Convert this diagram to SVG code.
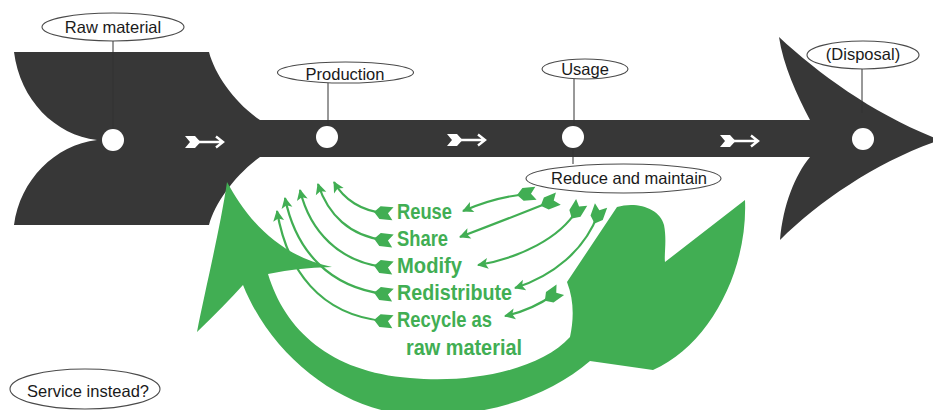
<svg xmlns="http://www.w3.org/2000/svg" width="933" height="410" viewBox="0 0 933 410">
<style>
.lbl{fill:#fff;stroke:#4a4a4a;stroke-width:1.1}
.lt{font-family:"Liberation Sans",Arial,sans-serif;font-size:16.5px;fill:#1a1a1a;text-anchor:middle}
.lead{stroke:#333;stroke-width:1;fill:none}
.dot{fill:#fff}
.g{fill:#41ae53}
.ga{fill:none;stroke:#41ae53;stroke-width:2.2;marker-start:url(#fl);marker-end:url(#hd)}
.gt{font-family:"Liberation Sans",Arial,sans-serif;font-size:22px;font-weight:bold;fill:#41ae53}
</style>
<defs>
<marker id="hd" viewBox="-12 -7 14 14" refX="0" refY="0" markerWidth="14" markerHeight="14" markerUnits="userSpaceOnUse" orient="auto">
<path d="M-10,-5.5 L1,0 L-10,5.5 L-7.5,0 Z" fill="#41ae53"/>
</marker>
<marker id="fl" viewBox="-12 -8 24 16" refX="0" refY="0" markerWidth="24" markerHeight="16" markerUnits="userSpaceOnUse" orient="auto">
<path d="M-9,-6.5 L4,-6.5 L10,0 L4,6.5 L-9,6.5 L-4,0 Z" fill="#41ae53"/>
</marker>
<g id="wa">
<path d="M0,-6 L10,-6 L15.5,0 L10,6 L0,6 L5,0 Z" fill="#fff"/>
<path d="M13,0 L37,0 M31,-5.5 L38,0 L31,5.5" fill="none" stroke="#fff" stroke-width="2.4"/>
</g>
</defs>
<rect width="933" height="410" fill="#fff"/>
<g id="lifecycle-arrow">
<path fill="#373737" d="M14,52 L209,52 C215,75 235,103 260,120 L810,120 C797,95 783,65 779,37 C820,75 875,115 940,140 C880,160 820,200 780,240 C783,205 795,175 810,157 L260,157 C235,175 215,203 209,225 L14,225 C20,180 55,145 97,140 C55,135 20,100 14,52 Z"/>
<use href="#wa" x="185" y="142"/>
<use href="#wa" x="447" y="140"/>
<use href="#wa" x="720" y="141"/>
</g>
<g id="connectors">
<line class="lead" x1="113" y1="41" x2="113" y2="130"/>
<line class="lead" x1="328" y1="83" x2="328" y2="127"/>
<line class="lead" x1="574" y1="79" x2="574" y2="127"/>
<line class="lead" x1="862" y1="69" x2="862" y2="113"/>
<line class="lead" x1="573" y1="148" x2="573" y2="164"/>
</g>
<g id="raw-material">
<circle class="dot" cx="113" cy="140" r="11"/>
<ellipse class="lbl" cx="113" cy="27" rx="71" ry="14"/>
<text class="lt" x="113" y="33">Raw material</text>
</g>
<g id="production">
<circle class="dot" cx="327" cy="137" r="11"/>
<ellipse class="lbl" cx="345.5" cy="72.5" rx="68" ry="10.5"/>
<text class="lt" x="345" y="79.5" font-size="17">Production</text>
</g>
<g id="usage">
<circle class="dot" cx="573" cy="137" r="11"/>
<ellipse class="lbl" cx="585" cy="69" rx="43" ry="10"/>
<text class="lt" x="585" y="75">Usage</text>
</g>
<g id="disposal">
<circle class="dot" cx="863" cy="139" r="11"/>
<ellipse class="lbl" cx="863" cy="55" rx="56" ry="14"/>
<text class="lt" x="863" y="60">(Disposal)</text>
</g>
<g id="reduce-maintain">
<ellipse class="lbl" cx="623.5" cy="178.5" rx="97.5" ry="14.5"/>
<text class="lt" x="629" y="184" font-size="17.5">Reduce and maintain</text>
</g>
<g id="service-instead">
<ellipse class="lbl" cx="85" cy="389" rx="75" ry="20"/>
<text class="lt" x="88" y="397" font-size="15.5">Service instead?</text>
</g>
<g id="reuse-loop">
<path class="g" d="M227,182 C245,215 275,255 332,267 Q295,268 268,274 C285,330 330,372 410,378 C470,384 540,370 570,337 C574,318 574,300 567,282 L617,207 C636,201 660,208 664,225 C667,240 664,255 665,262 L745,200 C748,270 710,345 653,370 L590,361 C545,400 470,424 390,412 C330,400 270,352 243,285 Q225,305 197,332 C205,290 220,230 227,182 Z"/>
</g>
<g id="loop-arrows">
<path class="ga" d="M384,213 C362,211 344,200 334,182"/>
<path class="ga" d="M384,240 C350,236 328,215 318,184"/>
<path class="ga" d="M384,267 C340,262 310,232 300,190"/>
<path class="ga" d="M384,294 C330,287 296,252 285,198"/>
<path class="ga" d="M384,321 C320,315 287,270 277,211"/>
<path class="ga" d="M527,194 Q495,197 463,211"/>
<path class="ga" d="M550,202 Q505,220 460,237"/>
<path class="ga" d="M577,210 C560,238 520,258 478,265"/>
<path class="ga" d="M598,214 C585,250 553,276 515,288"/>
<path class="ga" d="M553,295 Q532,310 505,316"/>
</g>
<g id="options">
<text class="gt" x="397" y="219" textLength="55" lengthAdjust="spacingAndGlyphs">Reuse</text>
<text class="gt" x="397" y="246" textLength="51" lengthAdjust="spacingAndGlyphs">Share</text>
<text class="gt" x="397" y="273" textLength="65" lengthAdjust="spacingAndGlyphs">Modify</text>
<text class="gt" x="397" y="300" textLength="115" lengthAdjust="spacingAndGlyphs">Redistribute</text>
<text class="gt" x="397" y="327" textLength="95" lengthAdjust="spacingAndGlyphs">Recycle as</text>
<text class="gt" x="406" y="355" textLength="116" lengthAdjust="spacingAndGlyphs">raw material</text>
</g>
</svg>
